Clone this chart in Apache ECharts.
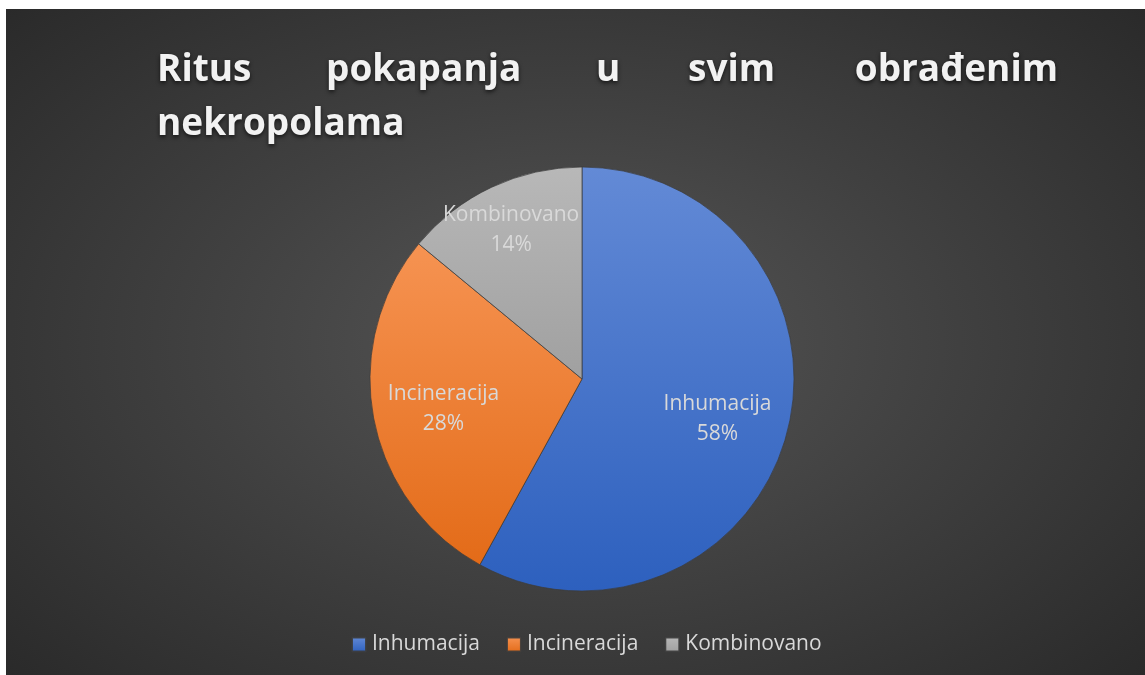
<!DOCTYPE html>
<html>
<head>
<meta charset="utf-8">
<script src="https://cdn.jsdelivr.net/npm/echarts@6/dist/echarts.min.js"></script>
<style>
  html, body { margin: 0; padding: 0; background: #ffffff; }
  #chart {
    position: absolute; left: 6px; top: 9px; width: 1139px; height: 666px;
    background: radial-gradient(ellipse 75% 80% at 50% 50%, #565656 0%, #404040 45%, #262626 100%);
  }
</style>
</head>
<body>
<div id="chart"></div>
<script>
// Burial rite shares across all processed necropolises
const categories = ['Inhumacija', 'Incineracija', 'Kombinovano'];
const shares = [58, 28, 14];

// Title, laid out as a justified two-line heading
const titleLine1 = ['Ritus', 'pokapanja', 'u', 'svim', 'obrađenim'];
const titleLine2 = 'nekropolama';

const sliceColors = [
  ['#638ad6', '#2d60be'],
  ['#f69352', '#e36b18'],
  ['#b8b8b8', '#a0a0a0']
];

const chart = echarts.init(document.getElementById('chart'), null, { renderer: 'canvas' });

const titleStyle = {
  color: '#f2f2f2',
  fontFamily: 'Open Sans',
  fontWeight: 'bold',
  fontSize: 37,
  textShadowColor: 'rgba(0,0,0,0.65)',
  textShadowBlur: 4,
  textShadowOffsetY: 2
};
const line1Left = [151, 320, 590, 682, null];
const titles = titleLine1.map((w, i) => {
  const t = { text: w, top: 43, textStyle: titleStyle, padding: 0 };
  if (line1Left[i] === null) t.right = 87; else t.left = line1Left[i];
  return t;
});
titles.push({ text: titleLine2, left: 151, top: 97, textStyle: titleStyle, padding: 0 });

const pieData = categories.map((name, i) => ({
  name,
  value: shares[i],
  itemStyle: {
    color: new echarts.graphic.LinearGradient(0, 0, 0, 1, [
      { offset: 0, color: sliceColors[i][0] },
      { offset: 1, color: sliceColors[i][1] }
    ])
  }
}));

// label nudges (px) for the slice labels
const labelNudge = [[-3, 4], [2, 3], [-10, -20]];

chart.setOption({
  backgroundColor: 'transparent',
  animation: false,
  title: titles,
  legend: {
    data: categories,
    bottom: 20,
    left: 345,
    padding: 0,
    itemWidth: 14,
    itemHeight: 14,
    itemGap: 26,
    icon: 'rect',
    textStyle: { color: '#d9d9d9', fontFamily: 'Open Sans', fontSize: 21, padding: [0, 0, 0, 1] }
  },
  series: [
    {
      type: 'pie',
      center: [576, 370],
      radius: [0, 212],
      startAngle: 90,
      clockwise: true,
      data: pieData,
      label: { show: false },
      labelLine: { show: false },
      itemStyle: { borderColor: 'rgba(60,60,60,0.9)', borderWidth: 0.8 },
      emphasis: { disabled: true }
    },
    {
      // transparent ring that only carries the slice labels
      type: 'pie',
      center: [576, 370],
      radius: [68, 212],
      startAngle: 90,
      clockwise: true,
      silent: true,
      legendHoverLink: false,
      data: categories.map((name, i) => ({ name, value: shares[i] })),
      itemStyle: { color: 'rgba(0,0,0,0)', borderWidth: 0 },
      label: {
        show: true,
        position: 'inside',
        formatter: p => p.name + '\n' + p.value + '%',
        color: '#d9d9d9',
        fontFamily: 'Open Sans',
        fontSize: 21,
        lineHeight: 30
      },
      labelLayout: p => ({ dx: labelNudge[p.dataIndex][0], dy: labelNudge[p.dataIndex][1] }),
      labelLine: { show: false },
      emphasis: { disabled: true }
    }
  ]
});
</script>
</body>
</html>
